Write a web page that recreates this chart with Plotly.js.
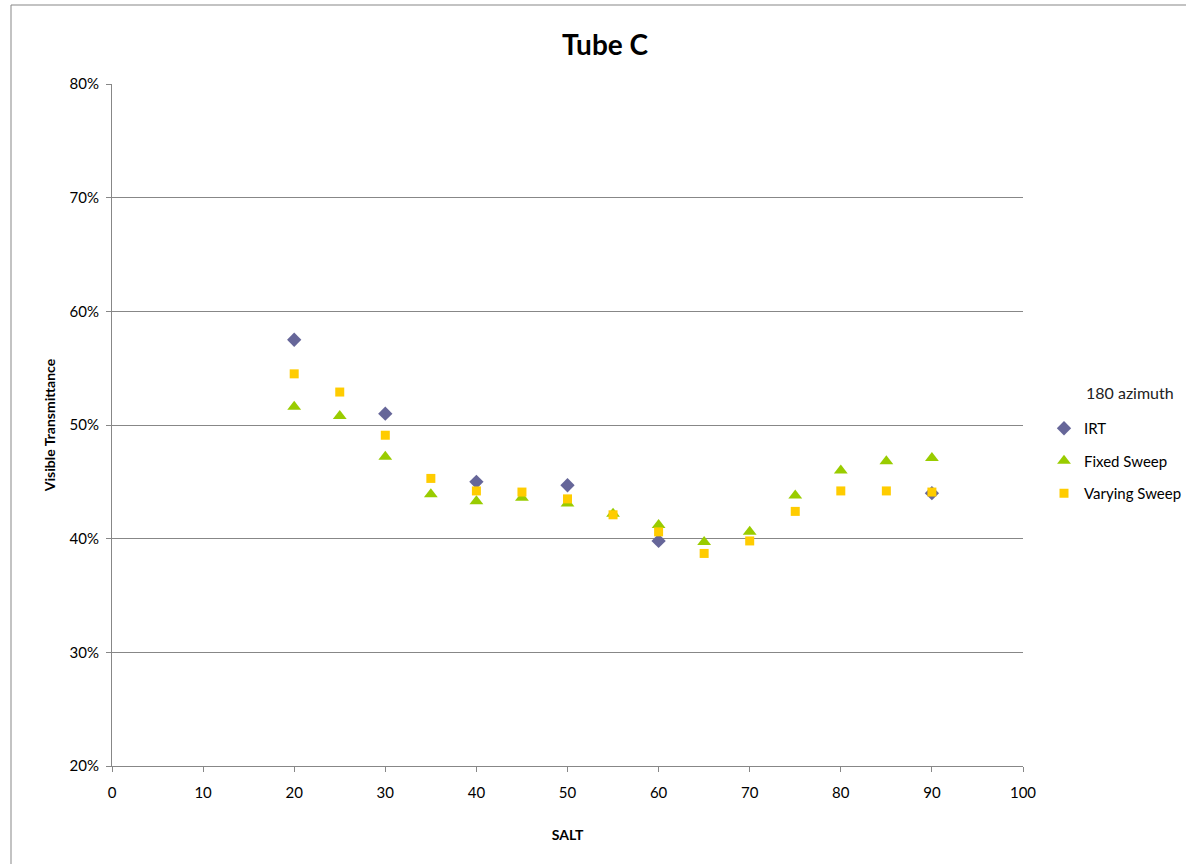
<!DOCTYPE html>
<html>
<head>
<meta charset="utf-8">
<script src="https://cdn.plot.ly/plotly-3.0.1.min.js"></script>
<style>
html,body{margin:0;padding:0;background:#fff;}
#chart{width:1186px;height:864px;}
</style>
</head>
<body>
<div id="chart"></div>
<script>
// SALT values
const salt = [20, 25, 30, 35, 40, 45, 50, 55, 60, 65, 70, 75, 80, 85, 90];
// Visible transmittance (fraction)
const irt =          [0.575, null, 0.510, null, 0.450, null, 0.447, null, 0.398, null, null, null, null, null, 0.440];
const fixedSweep =   [0.516, 0.508, 0.472, 0.439, 0.433, 0.436, 0.431, 0.422, 0.412, 0.397, 0.406, 0.438, 0.460, 0.468, 0.471];
const varyingSweep = [0.545, 0.529, 0.491, 0.453, 0.442, 0.441, 0.435, 0.421, 0.406, 0.387, 0.398, 0.424, 0.442, 0.442, 0.441];
const seriesNames = ['IRT', 'Fixed Sweep', 'Varying Sweep'];
const legendTitle = '180 azimuth';
const yTicks = [0.2, 0.3, 0.4, 0.5, 0.6, 0.7, 0.8];
const xTicks = [0, 10, 20, 30, 40, 50, 60, 70, 80, 90, 100];

const font = 'Lato, "Open Sans", "Liberation Sans", sans-serif';

const traces = [
  {x: salt, y: irt, name: seriesNames[0], mode: 'markers', type: 'scatter', legendgroup: 'a',
   marker: {symbol: 'diamond', size: 11, color: '#666699'}},
  {x: salt, y: fixedSweep, name: seriesNames[1], mode: 'markers', type: 'scatter', legendgroup: 'b',
   marker: {symbol: 'triangle-up', size: 12, color: '#99CC00'}},
  {x: salt, y: varyingSweep, name: seriesNames[2], mode: 'markers', type: 'scatter', legendgroup: 'c',
   marker: {symbol: 'square', size: 9, color: '#FFCC00'}}
];

const layout = {
  width: 1186, height: 864,
  margin: {l: 112, r: 163, t: 84, b: 98, autoexpand: false},
  paper_bgcolor: '#ffffff', plot_bgcolor: '#ffffff',
  font: {family: font, size: 15, color: '#000000'},
  title: {text: '<b>Tube C</b>', font: {family: font, size: 28, color: '#000'},
          x: 605/1186, xref: 'container', xanchor: 'center', y: 1 - 45/864, yref: 'container', yanchor: 'middle'},
  xaxis: {range: [0, 100], tickvals: xTicks, ticks: 'outside', ticklen: 5, tickcolor: '#878787',
          showline: true, linecolor: '#878787', linewidth: 1, showgrid: false, zeroline: false,
          tickfont: {size: 15, color: '#000'}, ticklabelstandoff: 8, automargin: false,
          title: {text: '<b>SALT</b>', font: {size: 14, color: '#000'}, standoff: 30}},
  yaxis: {range: [0.2, 0.8], tickvals: yTicks, tickformat: '.0%', ticks: 'outside', ticklen: 5, tickcolor: '#878787',
          showline: true, linecolor: '#878787', linewidth: 1, showgrid: true, gridcolor: '#878787', gridwidth: 1,
          zeroline: false, tickfont: {size: 15, color: '#000'}, ticklabelstandoff: 4, automargin: false,
          title: {text: '<b>Visible Transmittance</b>', font: {size: 14, color: '#000'}, standoff: 10}},
  showlegend: true,
  legend: {x: 1044/1186, xref: 'container', xanchor: 'left', y: 1 - 412/864, yref: 'container', yanchor: 'top',
           font: {size: 15, color: '#000'}, tracegroupgap: 10, itemwidth: 30,
           bgcolor: 'rgba(0,0,0,0)'},
  annotations: [
    {text: legendTitle, xref: 'paper', yref: 'paper', x: (1130-112)/911, y: (766-392)/682,
     xanchor: 'center', yanchor: 'middle', showarrow: false, font: {size: 16, color: '#222'}}
  ],
  shapes: [
    {type: 'rect', xref: 'paper', yref: 'paper',
     x0: (11-112)/911, x1: (1250-112)/911, y0: (766-900)/682, y1: (766-5)/682,
     line: {color: '#878787', width: 1}, fillcolor: 'rgba(0,0,0,0)', layer: 'below'}
  ]
};

Plotly.newPlot('chart', traces, layout, {displayModeBar: false, staticPlot: true});
</script>
</body>
</html>
